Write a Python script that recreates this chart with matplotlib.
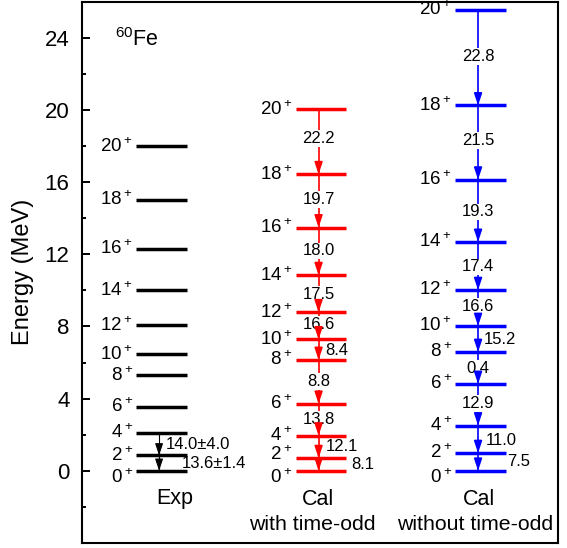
import matplotlib.pyplot as plt

plt.rcParams['font.family'] = ['Liberation Sans', 'DejaVu Sans']
plt.rcParams['mathtext.default'] = 'regular'

### level scheme data (MeV), spins 0+ ... 20+
spins = ['0', '2', '4', '6', '8', '10', '12', '14', '16', '18', '20']
exp_levels = [0.0, 0.85, 2.10, 3.56, 5.30, 6.45, 8.07, 10.0, 12.3, 15.0, 17.97]
odd_levels = [0.0, 0.70, 1.95, 3.71, 6.14, 7.28, 8.78, 10.84, 13.48, 16.43, 20.02]
even_levels = [0.0, 0.98, 2.51, 4.81, 6.58, 8.02, 10.01, 12.68, 16.13, 20.24, 25.53]

# B(E2) values, lowest transition first
exp_be2 = ['13.6\u00b11.4', '14.0\u00b14.0']
odd_be2 = ['8.1', '12.1', '13.8', '8.8', '8.4', '16.6', '17.5', '18.0', '19.7', '22.2']
even_be2 = ['7.5', '11.0', '12.9', '0.4', '15.2', '16.6', '17.4', '19.3', '21.5', '22.8']

# where the B(E2) labels sit (y in MeV, x offset from column centre; 0 = centred on arrow)
exp_be2_y = [0.39, 1.44]
exp_be2_dx = [0.127, 0.028]
odd_be2_y = [0.33, 1.34, 2.86, 4.94, 6.69, 8.11, 9.79, 12.18, 15.04, 18.40]
odd_be2_dx = [0.192, 0.031, 0, 0, 0.025, 0, 0, 0, 0, 0]
even_be2_y = [0.51, 1.68, 3.74, 5.68, 7.28, 9.13, 11.30, 14.34, 18.31, 22.95]
even_be2_dx = [0.168, 0.034, 0, 0, 0.018, 0, 0, 0, 0, 0]

fig = plt.figure(figsize=(5.67, 5.48), dpi=100)
ax = fig.add_axes([0.1446, 0.0091, 0.8395, 0.9881])

half = 0.157
columns = [
    (1, exp_levels, exp_be2, exp_be2_y, exp_be2_dx, 'black', 0.8, {0: -0.4}),
    (2, odd_levels, odd_be2, odd_be2_y, odd_be2_dx, 'red', 1.2, {0: -0.4, 1: 0.88}),
    (3, even_levels, even_be2, even_be2_y, even_be2_dx, 'blue', 1.2, {0: -0.4}),
]

for xc, levels, be2, be2_y, be2_dx, col, alw, nudge in columns:
    ax.hlines(levels, xc - half, xc + half, colors=col, lw=2.5, zorder=5)
    for i, (s, e) in enumerate(zip(spins, levels)):
        ax.text(xc - half - 0.022, nudge.get(i, e), s + '$^+$', ha='right', va='center',
                fontsize=13.5)
    xa = xc - 0.015
    for i, lab in enumerate(be2):
        lo, hi = levels[i], levels[i + 1]
        ax.plot([xa, xa], [hi, lo], color=col, lw=alw, zorder=2)
        ax.annotate('', xy=(xa, lo), xytext=(xa, lo + 0.55),
                    arrowprops=dict(arrowstyle='-|>,head_length=0.6,head_width=0.2',
                                    mutation_scale=12, color=col, lw=alw,
                                    shrinkA=0, shrinkB=0), zorder=6)
        if be2_dx[i] == 0:
            ax.text(xa, be2_y[i], lab, ha='center', va='center', fontsize=12, zorder=4,
                    bbox=dict(boxstyle='square,pad=0.05', fc='white', ec='none'))
        else:
            ax.text(xc + be2_dx[i], be2_y[i], lab, ha='left', va='center', fontsize=12,
                    zorder=4)

ax.text(0.708, 23.56, '$^{60}$Fe', fontsize=15.5, ha='left', va='baseline')
ax.text(1.085, -1.84, 'Exp', fontsize=15.5, ha='center', va='baseline')
ax.text(1.984, -1.88, 'Cal', fontsize=15.5, ha='center', va='baseline')
ax.text(2.99, -1.88, 'Cal', fontsize=15.5, ha='center', va='baseline')
ax.text(1.947, -3.26, 'with time-odd', fontsize=15.3, ha='center', va='baseline')
ax.text(2.964, -3.26, 'without time-odd', fontsize=15.3, ha='center', va='baseline')

ax.set_xlim(0.5016, 3.486)
ax.set_ylim(-4, 26)
ax.set_xticks([])
ax.set_yticks(range(0, 25, 4))
ax.set_yticks(range(-2, 26, 4), minor=True)
ax.tick_params(axis='y', which='major', direction='in', length=5.8, width=1.4,
               labelsize=16, pad=9)
ax.tick_params(axis='y', which='minor', direction='in', length=3, width=1.4)
for sp in ax.spines.values():
    sp.set_linewidth(1.5)
ax.set_ylabel('Energy (MeV)', fontsize=17, labelpad=8)

plt.savefig('out.png', dpi=100)
